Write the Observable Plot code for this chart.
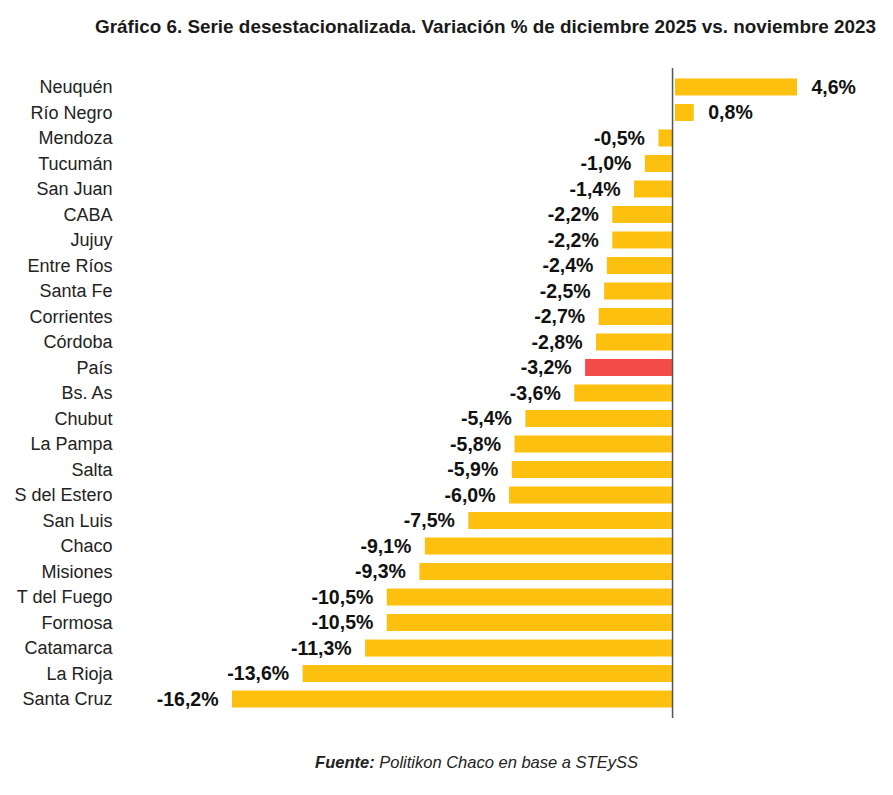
<!DOCTYPE html>
<html>
<head>
<meta charset="utf-8">
<script src="https://cdn.jsdelivr.net/npm/d3@7"></script>
<script src="https://cdn.jsdelivr.net/npm/@observablehq/plot@0.6"></script>
<style>
  body { margin: 0; background: #fff; font-family: "Liberation Sans", Arial, sans-serif; }
  #wrap { width: 893px; }
  #title { height: 50px; box-sizing: border-box; padding-top: 16px; padding-right: 17px; text-align: right; white-space: nowrap;
    font-family: "Liberation Sans", Arial, sans-serif; font-weight: bold; font-size: 18.5px; color: #1a1a1a; }
  #title span { display: inline-block; transform-origin: right center; }
  #foot { text-align: center; font-style: italic; font-size: 16.5px; color: #222; padding-left: 60px; margin-top: 13px; }
  svg { display: block; }
</style>
</head>
<body>
<div id="wrap">
  <div id="title"><span id="tt">Gráfico 6. Serie desestacionalizada. Variación % de diciembre 2025 vs. noviembre 2023</span></div>
  <div id="chart"></div>
  <div id="foot"><b>Fuente:</b> Politikon Chaco en base a STEySS</div>
</div>
<script>
const provincias = ["Neuquén","Río Negro","Mendoza","Tucumán","San Juan","CABA","Jujuy","Entre Ríos","Santa Fe","Corrientes","Córdoba","País","Bs. As","Chubut","La Pampa","Salta","S del Estero","San Luis","Chaco","Misiones","T del Fuego","Formosa","Catamarca","La Rioja","Santa Cruz"];
const variacion = [4.6,0.8,-0.5,-1.0,-1.4,-2.2,-2.2,-2.4,-2.5,-2.7,-2.8,-3.2,-3.6,-5.4,-5.8,-5.9,-6.0,-7.5,-9.1,-9.3,-10.5,-10.5,-11.3,-13.6,-16.2];

const data = provincias.map((p, i) => ({p, v: variacion[i]}));
const fmt = d => d.v.toFixed(1).replace(".", ",") + "%";
const pos = data.filter(d => d.v >= 0);
const neg = data.filter(d => d.v < 0);

const chart = Plot.plot({
  width: 893,
  height: 690,
  marginTop: 18,
  marginBottom: 22,
  marginLeft: 232,
  marginRight: 96,
  x: {domain: [-16.2, 4.6], axis: null},
  y: {domain: provincias, paddingInner: 0.333, paddingOuter: 0.41, round: false, label: null},
  style: {fontFamily: "Liberation Sans, Arial, sans-serif", background: "#fff"},
  marks: [
    Plot.barX(neg, {x: "v", y: "p", fill: d => d.p === "País" ? "#F24B48" : "#FDC00F"}),
    Plot.barX(pos, {x: "v", y: "p", fill: "#FDC00F", insetLeft: 3}),
    Plot.ruleX([0], {stroke: "#555", strokeWidth: 1.5}),
    Plot.axisY({tickSize: 0, tickPadding: 120, fontSize: 18, fill: "#222", label: null}),
    Plot.text(neg, {x: "v", y: "p", text: fmt, textAnchor: "end", dx: -14, fontSize: 19.5, fontWeight: "bold", fill: "#111"}),
    Plot.text(pos, {x: "v", y: "p", text: fmt, textAnchor: "start", dx: 14, fontSize: 19.5, fontWeight: "bold", fill: "#111"})
  ]
});
document.getElementById("chart").appendChild(chart);

// fit the title to the reference's width (condensed look)
const tt = document.getElementById("tt");
const w = tt.getBoundingClientRect().width;
tt.style.transform = `scaleX(${781 / w})`;
</script>
</body>
</html>
